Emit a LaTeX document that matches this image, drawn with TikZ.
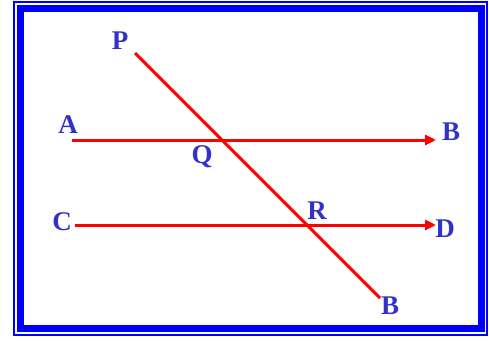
\documentclass[tikz,border=0pt]{standalone}
\usepackage{fontspec}
\setmainfont{Liberation Serif}
\usetikzlibrary{arrows.meta}
\definecolor{labblue}{RGB}{50,50,200}
\definecolor{frameblue}{RGB}{0,0,255}
\begin{document}
\begin{tikzpicture}[x=1pt,y=-1pt,
  lab/.style={text=labblue,font=\fontsize{27}{27}\selectfont\bfseries,inner sep=0pt},
  redline/.style={draw=red,line width=3pt},
  arrowline/.style={redline,-{Triangle[length=11pt,width=10pt]}}]
\useasboundingbox (0,0) rectangle (489,340);
% frame
\draw[frameblue,line width=2pt] (14,2) rectangle (487,335);
\draw[frameblue,line width=7pt] (20,8) rectangle (481.5,328);
% coordinates
\coordinate (a1) at (72,140);
\coordinate (b1) at (436,140);
\coordinate (c1) at (75,225);
\coordinate (d1) at (436,225);
\coordinate (p1) at (135,53);
\coordinate (b2) at (380,298);
% lines
\draw[arrowline] (a1) -- (b1);
\draw[arrowline] (c1) -- (d1);
\draw[redline] (p1) -- (b2);
% labels
\node[lab] (P) at (120,41) {P};
\node[lab] (A) at (68,125) {A};
\node[lab] (B) at (451,132) {B};
\node[lab] (Q) at (202,157) {Q};
\node[lab] (R) at (317,211) {R};
\node[lab] (C) at (62,222) {C};
\node[lab] (D) at (445,229) {D};
\node[lab] (B2) at (390,306) {B};
\end{tikzpicture}
\end{document}
